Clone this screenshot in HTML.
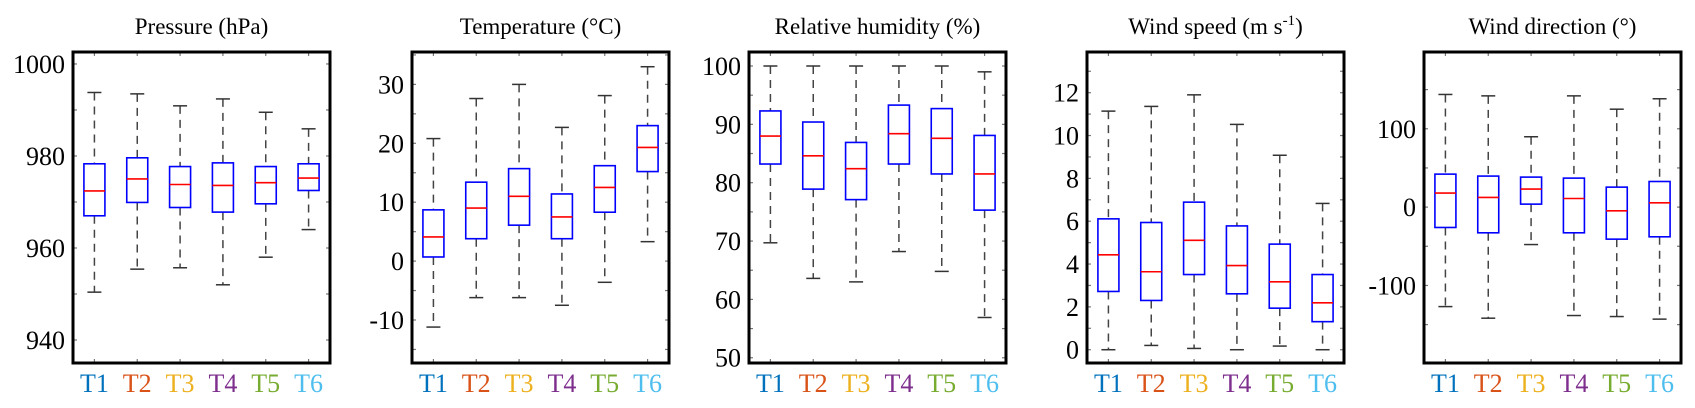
<!DOCTYPE html>
<html><head><meta charset="utf-8">
<style>
html,body{margin:0;padding:0;background:#fff;}
svg{display:block;font-family:"Liberation Serif","DejaVu Serif",serif;}
svg text{font-family:"Liberation Serif","DejaVu Serif",serif;}
</style></head>
<body>
<svg id="fig" width="1695" height="408" viewBox="0 0 1695 408"></svg>
<script>
const categories = ["T1","T2","T3","T4","T5","T6"];
const catColors = ["#0072BD","#D95319","#EDB120","#7E2F8E","#77AC30","#4DBEEE"];
const titles = ["Pressure (hPa)","Temperature (°C)","Relative humidity (%)","Wind speed (m s-1)","Wind direction (°)"];
// per panel: [low, q1, median, q3, high] for T1..T6
const pressureStats = [[950.4,967.0,972.4,978.3,993.8],[955.4,969.9,975.0,979.6,993.5],[955.7,968.8,973.8,977.7,990.9],[952.0,967.8,973.6,978.5,992.4],[958.0,969.6,974.2,977.7,989.5],[964.0,972.5,975.2,978.3,985.9]];
const temperatureStats = [[-11.2,0.7,4.1,8.7,20.8],[-6.2,3.8,9.0,13.4,27.6],[-6.2,6.1,11.0,15.7,30.0],[-7.5,3.8,7.5,11.4,22.7],[-3.6,8.3,12.5,16.2,28.1],[3.3,15.2,19.3,23.0,33.0]];
const humidityStats = [[69.7,83.2,88.0,92.3,100],[63.6,78.9,84.6,90.4,100],[63.0,77.1,82.4,86.9,100],[68.2,83.2,88.4,93.3,100],[64.8,81.5,87.6,92.7,100],[56.9,75.3,81.5,88.1,99.0]];
const windSpeedStats = [[0,2.72,4.43,6.11,11.14],[0.2,2.30,3.64,5.94,11.36],[0.06,3.51,5.11,6.89,11.9],[0,2.61,3.93,5.78,10.52],[0.17,1.94,3.17,4.93,9.08],[0,1.31,2.19,3.51,6.83]];
const windDirStats = [[-127,-26,17.9,42.1,143.8],[-141.8,-32.8,12.3,39.6,142],[-47.8,3.8,23,38.3,89.8],[-138.4,-32.8,11,37,142],[-139.7,-40.9,-4.7,25.5,125],[-143,-37.9,5.5,32.7,138.3]];
const pressureTicks = [940,960,980,1000];
const temperatureTicks = [-10,0,10,20,30];
const humidityTicks = [50,60,70,80,90,100];
const windSpeedTicks = [0,2,4,6,8,10,12];
const windDirTicks = [-100,0,100];
const panelStats = [pressureStats,temperatureStats,humidityStats,windSpeedStats,windDirStats];
const panelTicks = [pressureTicks,temperatureTicks,humidityTicks,windSpeedTicks,windDirTicks];
const panelMinorTicks = [[950,970,990],[-15,-5,5,15,25,35],[55,65,75,85,95],[1,3,5,7,9,11,13],[-150,-50,50,150]];
const panelYLim = [[935.0,1002.6],[-17.3,35.5],[49.1,102.4],[-0.62,13.9],[-199,198]];
const panelNames = ["pressure","temperature","humidity","wind-speed","wind-direction"];

const NS="http://www.w3.org/2000/svg";
const FF='"Liberation Serif","DejaVu Serif",serif';
const svgRoot=document.getElementById('fig');
function mk(tag,attrs,parent){const e=document.createElementNS(NS,tag);for(const k in attrs)e.setAttribute(k,attrs[k]);if(tag==='text')e.setAttribute('font-family',FF);(parent||svgRoot).appendChild(e);return e;}
const lefts=[73,412,749,1087,1424];
const W=257, plotTop=52, plotBot=363;

panelNames.forEach((pn,p)=>{
  const L=lefts[p], R=L+W;
  const y0=panelYLim[p][0], y1=panelYLim[p][1];
  const ys=v=>plotBot-(v-y0)/(y1-y0)*(plotBot-plotTop);
  const xs=i=>L+(i+0.5)*W/6;
  const g=mk('g',{});
  
  
  const t=mk('text',{x:L+W/2,y:34,'text-anchor':'middle','font-size':23,fill:'#000'},g);
  
  
  if(p===3){
    t.textContent='Wind speed (m s';
    const ts=mk('tspan',{'font-size':15,dy:-9},t);ts.textContent='-1';
    const ts2=mk('tspan',{dy:9},t);ts2.textContent=')';
  } else t.textContent=titles[p];
  const tickAll=panelTicks[p].concat(panelMinorTicks[p]);
  tickAll.forEach(v=>{
    const y=ys(v); if(y<plotTop+2||y>plotBot-2) return;
    mk('line',{x1:L,x2:L+4,y1:y,y2:y,stroke:'#777','stroke-width':1.2},g);
    mk('line',{x1:R-4,x2:R,y1:y,y2:y,stroke:'#777','stroke-width':1.2},g);
  });
  panelTicks[p].forEach(v=>{
    const lab=mk('text',{x:L-8,y:ys(v)+9,'text-anchor':'end','font-size':26,fill:'#000'},g);
    
    
    lab.textContent=v;
  });
  categories.forEach((c,i)=>{
    const x=xs(i);
    mk('line',{x1:x,x2:x,y1:plotBot,y2:plotBot-4,stroke:'#777','stroke-width':1.2},g);
    mk('line',{x1:x,x2:x,y1:plotTop,y2:plotTop+4,stroke:'#777','stroke-width':1.2},g);
    const lab=mk('text',{x:x,y:392,'text-anchor':'middle','font-size':26,fill:catColors[i]},g);
    
    
    lab.textContent=c;
    const s=panelStats[p][i];
    const bg=mk('g',{},g);
    
    
    mk('line',{x1:x,x2:x,y1:ys(s[4]),y2:ys(s[3]),stroke:'#444','stroke-width':1.5,'stroke-dasharray':'8,6'},bg);
    mk('line',{x1:x,x2:x,y1:ys(s[1]),y2:ys(s[0]),stroke:'#444','stroke-width':1.5,'stroke-dasharray':'8,6'},bg);
    mk('line',{x1:x-7,x2:x+7,y1:ys(s[4]),y2:ys(s[4]),stroke:'#333','stroke-width':1.5},bg);
    mk('line',{x1:x-7,x2:x+7,y1:ys(s[0]),y2:ys(s[0]),stroke:'#333','stroke-width':1.5},bg);
    mk('rect',{x:x-10.5,y:ys(s[3]),width:21,height:ys(s[1])-ys(s[3]),fill:'#fff',stroke:'#0000ff','stroke-width':1.6},bg);
    mk('line',{x1:x-10.5,x2:x+10.5,y1:ys(s[2]),y2:ys(s[2]),stroke:'#ff0000','stroke-width':1.6},bg);
  });
  const fr=mk('rect',{x:L,y:plotTop,width:W,height:plotBot-plotTop,fill:'none',stroke:'#000','stroke-width':3},g);
  
  
});
</script>
</body></html>
